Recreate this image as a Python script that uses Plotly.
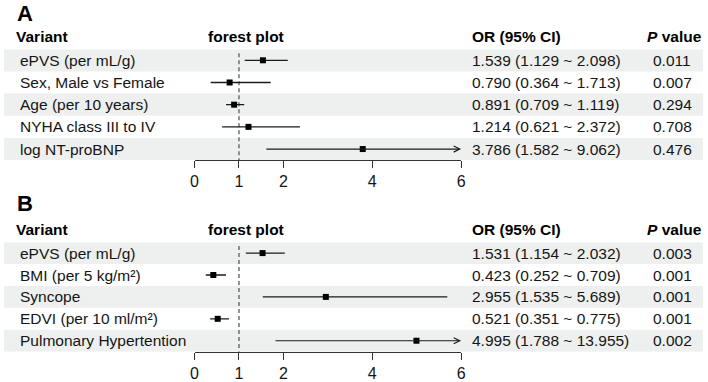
import plotly.graph_objects as go

W, H = 708, 382

# ---------------- data ----------------
variants_a = ["ePVS (per mL/g)", "Sex, Male vs Female", "Age (per 10 years)",
              "NYHA class III to IV", "log NT-proBNP"]
or_a = [1.539, 0.790, 0.891, 1.214, 3.786]
lo_a = [1.129, 0.364, 0.709, 0.621, 1.582]
hi_a = [2.098, 1.713, 1.119, 2.372, 9.062]
p_a = ["0.011", "0.007", "0.294", "0.708", "0.476"]

variants_b = ["ePVS (per mL/g)", "BMI (per 5 kg/m²)", "Syncope",
              "EDVI (per 10 ml/m²)", "Pulmonary Hypertention"]
or_b = [1.531, 0.423, 2.955, 0.521, 4.995]
lo_b = [1.154, 0.252, 1.535, 0.351, 1.788]
hi_b = [2.032, 0.709, 5.689, 0.775, 13.955]
p_b = ["0.003", "0.001", "0.001", "0.001", "0.002"]

tick_vals = [0, 1, 2, 4, 6]
tick_text = ["0", "1", "2", "4", "6"]
x_max = 6
ref_line = 1

FONT = "Liberation Sans, Arial, Helvetica, sans-serif"
TXT = "#151515"
BAND = "#eef0ef"
FS = 15.5


def px(x):
    return x / W


def py(y):
    return 1 - y / H


fig = go.Figure()
annotations = []
shapes = []

panels = [
    dict(label="A", label_top=-1, head_y=37, top=50, bottom=162.7,
         xa="x", ya="y", variants=variants_a, orv=or_a, lo=lo_a, hi=hi_a, p=p_a),
    dict(label="B", label_top=192.5, head_y=233, top=246, bottom=357.3,
         xa="x2", ya="y2", variants=variants_b, orv=or_b, lo=lo_b, hi=hi_b, p=p_b),
]

for k, pn in enumerate(panels):
    n = len(pn["variants"])
    rows = list(range(n))
    xa, ya = pn["xa"], pn["ya"]
    # bands
    for i in rows:
        if i % 2 == 0:
            shapes.append(dict(type="rect", xref="paper", yref=ya, x0=0, x1=1,
                               y0=i - 0.5, y1=i + 0.5, fillcolor=BAND,
                               line=dict(width=0), layer="below"))
    # dashed reference line
    row_h = (pn["bottom"] - pn["top"]) / n
    y_start = -0.5 + 4 / row_h
    fig.add_trace(go.Scatter(x=[ref_line, ref_line], y=[y_start, n - 0.5],
                             mode="lines", xaxis=xa, yaxis=ya,
                             line=dict(color="#5a5a5a", width=1.3, dash="4px,3px"),
                             hoverinfo="skip", showlegend=False))
    # CI lines (not clipped)
    cx, cy = [], []
    for i in rows:
        if pn["hi"][i] <= x_max:
            cx += [pn["lo"][i], pn["hi"][i], None]
            cy += [i, i, None]
        else:
            annotations.append(dict(x=x_max, y=i, ax=pn["lo"][i], ay=i,
                                    xref=xa, yref=ya, axref=xa, ayref=ya,
                                    text="", showarrow=True, arrowhead=5,
                                    arrowsize=1.0, arrowwidth=1.2,
                                    arrowcolor="#1a1a1a"))
    fig.add_trace(go.Scatter(x=cx, y=cy, mode="lines", xaxis=xa, yaxis=ya,
                             line=dict(color="#1a1a1a", width=1.3),
                             hoverinfo="skip", showlegend=False))
    # point estimates
    fig.add_trace(go.Scatter(x=pn["orv"], y=rows, mode="markers", xaxis=xa, yaxis=ya,
                             marker=dict(symbol="square", size=6, color="#000000"),
                             cliponaxis=False, showlegend=False))
    # panel label
    annotations.append(dict(x=px(11), y=py(pn["label_top"]), xref="paper", yref="paper",
                            text="<b>%s</b>" % pn["label"], showarrow=False,
                            xanchor="left", yanchor="top",
                            font=dict(family=FONT, size=22, color="#000")))
    # headers
    hy = py(pn["head_y"])
    for txt, x, anc in [("<b>Variant</b>", 10, "left"),
                        ("<b>forest plot</b>", 245, "center"),
                        ("<b>OR (95% CI)</b>", 472, "left"),
                        ("<b><i>P</i> value</b>", 679, "center")]:
        annotations.append(dict(x=px(x), y=hy, xref="paper", yref="paper", text=txt,
                                showarrow=False, xanchor=anc, yanchor="middle",
                                font=dict(family=FONT, size=FS, color="#000")))
    # row texts
    for i in rows:
        annotations.append(dict(x=px(14), y=i, xref="paper", yref=ya,
                                text=pn["variants"][i], showarrow=False,
                                xanchor="left", yanchor="middle",
                                font=dict(family=FONT, size=FS, color=TXT)))
        or_txt = "%.3f (%.3f ~ %.3f)" % (pn["orv"][i], pn["lo"][i], pn["hi"][i])
        annotations.append(dict(x=px(472), y=i, xref="paper", yref=ya,
                                text=or_txt, showarrow=False,
                                xanchor="left", yanchor="middle",
                                font=dict(family=FONT, size=FS, color=TXT)))
        annotations.append(dict(x=px(677), y=i, xref="paper", yref=ya,
                                text=pn["p"][i], showarrow=False,
                                xanchor="center", yanchor="middle",
                                font=dict(family=FONT, size=FS, color=TXT)))

xaxis_common = dict(domain=[px(193), px(463)], range=[0, x_max], showline=True,
                    linecolor="#333333", linewidth=1.2, ticks="outside", ticklen=7,
                    tickwidth=1.2, tickcolor="#333333", tickvals=tick_vals,
                    ticktext=tick_text, showgrid=False, zeroline=False,
                    tickfont=dict(family=FONT, size=16, color=TXT), fixedrange=True)

fig.update_layout(
    width=W, height=H, margin=dict(l=0, r=0, t=0, b=0),
    paper_bgcolor="white", plot_bgcolor="rgba(0,0,0,0)",
    showlegend=False,
    xaxis=dict(anchor="y", **xaxis_common),
    xaxis2=dict(anchor="y2", **xaxis_common),
    yaxis=dict(domain=[py(162.7), py(50)], range=[4.5, -0.5], visible=False,
               fixedrange=True),
    yaxis2=dict(domain=[py(357.3), py(246)], range=[4.5, -0.5], visible=False,
                fixedrange=True),
    annotations=annotations, shapes=shapes,
)

fig.write_html("out.html")
